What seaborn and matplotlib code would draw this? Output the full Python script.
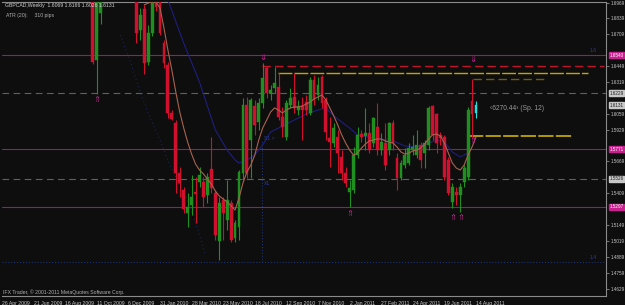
import numpy as np
import pandas as pd
import matplotlib
matplotlib.use("Agg")
import matplotlib.pyplot as plt
from matplotlib import font_manager
import seaborn as sns

# ---------------- data (weekly GBPCAD, price units) ----------------
weeks = [23, 24, 25] + list(range(34, 121))
opens = [1.7150, 1.6499, 1.6884,
         1.7020, 1.6745, 1.6916, 1.6483, 1.6720, 1.7000, 1.6980, 1.6638, 1.6458, 1.6066,
         1.5984, 1.5575, 1.5436, 1.5248, 1.5313, 1.5419, 1.5501, 1.5501, 1.5395, 1.5608,
         1.5411, 1.5019, 1.5354, 1.5190, 1.5329, 1.5043, 1.5133, 1.5575, 1.6131, 1.5845,
         1.6123, 1.5992, 1.6147, 1.6434, 1.6229, 1.6270, 1.6278, 1.6033, 1.5869, 1.6131,
         1.6197, 1.6090, 1.6123, 1.6156, 1.6066, 1.6336, 1.6213, 1.6360, 1.6172, 1.5861,
         1.5820, 1.5869, 1.5706, 1.5575, 1.5419, 1.5436, 1.5722, 1.5894, 1.5877, 1.5902,
         1.5820, 1.5951, 1.5763, 1.5820, 1.5763, 1.5984, 1.5698, 1.5534, 1.5640, 1.5657,
         1.5763, 1.5722, 1.5804, 1.5738, 1.5804, 1.6123, 1.6057, 1.5886, 1.5869, 1.5681,
         1.5338, 1.5419, 1.5395, 1.5501, 1.5542, 1.6164, 1.6069]
highs = [1.7200, 1.7150, 1.7150,
         1.7050, 1.6925, 1.6950, 1.6786, 1.7050, 1.7030, 1.7000, 1.6663, 1.6483, 1.6090,
         1.6008, 1.5624, 1.5460, 1.5411, 1.5559, 1.5542, 1.5624, 1.5542, 1.5575, 1.5869,
         1.5436, 1.5379, 1.5379, 1.5518, 1.5354, 1.5190, 1.5599, 1.6188, 1.6197, 1.6188,
         1.6172, 1.6188, 1.6475, 1.6450, 1.6295, 1.6442, 1.6393, 1.6115, 1.6172, 1.6270,
         1.6393, 1.6172, 1.6197, 1.6213, 1.6360, 1.6377, 1.6360, 1.6377, 1.6197, 1.6033,
         1.5984, 1.5927, 1.5763, 1.5624, 1.5518, 1.5788, 1.5951, 1.5927, 1.6107, 1.5984,
         1.6033, 1.6147, 1.5902, 1.5984, 1.5992, 1.6008, 1.5738, 1.5681, 1.5779, 1.5820,
         1.5886, 1.5927, 1.5828, 1.5845, 1.6123, 1.6131, 1.6066, 1.5910, 1.5886, 1.5706,
         1.5493, 1.5460, 1.5493, 1.5640, 1.6115, 1.6344, 1.6166]
lows = [1.6470, 1.6221, 1.6794,
        1.6638, 1.6663, 1.6385, 1.6458, 1.6696, 1.6900, 1.6704, 1.6434, 1.6025, 1.6008,
        1.5411, 1.5379, 1.5248, 1.5133, 1.5231, 1.5166, 1.5460, 1.5297, 1.5329, 1.5411,
        1.5027, 1.4863, 1.5027, 1.5109, 1.5010, 1.5010, 1.5027, 1.5518, 1.5534, 1.5534,
        1.5886, 1.5927, 1.6107, 1.6188, 1.6172, 1.6229, 1.6008, 1.5869, 1.5845, 1.6107,
        1.6066, 1.6049, 1.5845, 1.6049, 1.6049, 1.6131, 1.6172, 1.6107, 1.5845, 1.5624,
        1.5788, 1.5575, 1.5518, 1.5460, 1.5297, 1.5411, 1.5698, 1.5828, 1.5763, 1.5738,
        1.5788, 1.5722, 1.5722, 1.5599, 1.5722, 1.5763, 1.5436, 1.5518, 1.5616, 1.5640,
        1.5722, 1.5698, 1.5616, 1.5616, 1.5763, 1.5845, 1.5738, 1.5804, 1.5518, 1.5395,
        1.5289, 1.5313, 1.5256, 1.5460, 1.5518, 1.5869, 1.6026]
closes = [1.6483, 1.7100, 1.7050,
          1.6720, 1.6867, 1.6475, 1.6720, 1.7010, 1.6930, 1.6720, 1.6475, 1.6066, 1.6017,
          1.5575, 1.5493, 1.5280, 1.5297, 1.5379, 1.5403, 1.5559, 1.5379, 1.5542, 1.5452,
          1.5068, 1.5329, 1.5248, 1.5354, 1.5027, 1.5166, 1.5583, 1.6131, 1.5575, 1.6172,
          1.5968, 1.6147, 1.6352, 1.6229, 1.6254, 1.6311, 1.6033, 1.5951, 1.6147, 1.6188,
          1.6107, 1.6123, 1.6090, 1.6090, 1.6336, 1.6172, 1.6295, 1.6147, 1.5910, 1.5828,
          1.5943, 1.5738, 1.5575, 1.5493, 1.5452, 1.5722, 1.5886, 1.5869, 1.5902, 1.5763,
          1.6025, 1.5763, 1.5828, 1.5640, 1.5984, 1.5820, 1.5534, 1.5657, 1.5722, 1.5779,
          1.5788, 1.5804, 1.5681, 1.5820, 1.6107, 1.5886, 1.5820, 1.5861, 1.5542, 1.5411,
          1.5460, 1.5395, 1.5460, 1.5616, 1.6090, 1.6057, 1.6131]

ma_fast_weeks = list(range(36, 121))
ma_fast = [1.6950, 1.6965, 1.6974, 1.6970, 1.6925, 1.6761, 1.6581, 1.6417, 1.6237, 1.6074,
           1.5943, 1.5828, 1.5730, 1.5648, 1.5599, 1.5567, 1.5526, 1.5485, 1.5428, 1.5387,
           1.5362, 1.5338, 1.5305, 1.5272, 1.5370, 1.5493, 1.5583, 1.5640, 1.5722, 1.5845,
           1.5943, 1.6008, 1.6074, 1.6107, 1.6090, 1.6066, 1.6090, 1.6107, 1.6115, 1.6115,
           1.6123, 1.6139, 1.6156, 1.6180, 1.6197, 1.6213, 1.6172, 1.6107, 1.6041, 1.5968,
           1.5886, 1.5820, 1.5763, 1.5722, 1.5738, 1.5779, 1.5812, 1.5837, 1.5845, 1.5853,
           1.5853, 1.5837, 1.5828, 1.5820, 1.5788, 1.5747, 1.5730, 1.5738, 1.5755, 1.5763,
           1.5779, 1.5812, 1.5853, 1.5886, 1.5894, 1.5877, 1.5820, 1.5738, 1.5657, 1.5616,
           1.5599, 1.5640, 1.5722, 1.5788, 1.5869]

ma_slow_weeks = [42, 46, 50, 54, 57, 59, 60, 62, 64, 66, 68, 71, 74, 77, 80, 82, 84, 86,
                 88, 90, 93, 96, 99, 102, 105, 108, 110, 112, 114, 116, 118]
ma_slow = [1.6990, 1.6638, 1.6319, 1.5927, 1.5763, 1.5681, 1.5657, 1.5681, 1.5722, 1.5804,
           1.5910, 1.5959, 1.6008, 1.6057, 1.6090, 1.6107, 1.6041, 1.5992, 1.5943, 1.5886,
           1.5869, 1.5853, 1.5837, 1.5796, 1.5788, 1.5820, 1.5845, 1.5828, 1.5747, 1.5706,
           1.5738]

band_weeks = [30, 32.5, 35, 37.5, 40, 42.5, 45, 47.5, 50, 51.5]
band_vals = [1.6704, 1.6483, 1.6237, 1.6025, 1.5845, 1.5640, 1.5477, 1.5313, 1.5068, 1.4904]

date_labels = ["26 Apr 2009", "21 Jun 2009", "16 Aug 2009", "11 Oct 2009", "6 Dec 2009",
               "31 Jan 2010", "28 Mar 2010", "23 May 2010", "18 Jul 2010", "12 Sep 2010",
               "7 Nov 2010", "2 Jan 2011", "27 Feb 2011", "24 Apr 2011", "19 Jun 2011",
               "14 Aug 2011"]
date_ticks = list(range(0, 121, 8))

price_ticks = [1.6969, 1.6839, 1.6709, 1.6449, 1.6319, 1.6059, 1.5929, 1.5669,
               1.5409, 1.5149, 1.5019, 1.4889, 1.4759, 1.4629]

magenta_levels = [1.6540, 1.5771, 1.5297]
grey_levels = [1.6229, 1.5526]
current_price = 1.6131
red_level = 1.6453
yellow_level = 1.6395
olive_level = 1.6344
yellow2_level = 1.5880
blue_level = 1.4847

frac_down_weeks = [66, 119]
frac_down_vals = [1.6516, 1.6507]
frac_up_weeks = [24, 88, 114, 116, 119]
frac_up_vals = [1.6180, 1.5248, 1.5215, 1.5215, 1.5845]

# ---------------- style ----------------
W, H = 625, 305
BG = "#0e0e0e"
GREEN = "#1f8f1f"
RED = "#d0102e"
sns.set_style("dark", {"axes.facecolor": BG, "figure.facecolor": BG})
_names = {f.name for f in font_manager.fontManager.ttflist}
if "Liberation Sans Narrow" in _names:
    FONT, FS, FSY = "Liberation Sans Narrow", 4.3, 4.0
else:
    FONT, FS, FSY = "Liberation Sans", 3.7, 3.3
plt.rcParams['font.family'] = [FONT, 'DejaVu Sans']

PXW = 3.95          # px per week
Y0, SLOPE = 1.6990, 0.000818   # price at pixel row 0, price per pixel

fig = plt.figure(figsize=(W / 100, H / 100), dpi=100)
fig.patch.set_facecolor(BG)
ax_left, ax_right, ax_top, ax_bot = 2, 606, 1.5, 296
ax = fig.add_axes([ax_left / W, (H - ax_bot) / H, (ax_right - ax_left) / W, (ax_bot - ax_top) / H])
ax.set_facecolor(BG)
ax.set_xlim(0, (ax_right - ax_left) / PXW)
ax.set_ylim(Y0 - SLOPE * ax_bot, Y0 - SLOPE * ax_top)
xmax = (ax_right - ax_left) / PXW

# horizontal levels
for lv in magenta_levels:
    ax.axhline(lv, color="#8a1f78", lw=0.8, zorder=1)
for lv in grey_levels:
    ax.axhline(lv, color="#606060", lw=0.8, ls=(0, (6, 4)), zorder=1)
ax.axhline(blue_level, color="#203a80", lw=0.7, ls=(0, (1, 2)), zorder=1)
ax.hlines(red_level, 65.8, xmax - 0.5, color="#c0142c", lw=1.0, ls=(0, (6, 3)), zorder=2)
ax.hlines(yellow_level, 69.9, 148.4, color="#c8a400", lw=1.0, ls=(0, (10, 1.5)), zorder=2)
ax.hlines(olive_level, 119.2, 138.2, color="#6e5c12", lw=1.0, ls=(0, (6, 3)), zorder=2)
ax.hlines(yellow2_level, 118, 144.3, color="#e0c000", lw=1.1, ls=(0, (10, 1.5)), zorder=2)
ax.vlines(65.8, blue_level, 1.5845, color="#203a80", lw=0.7, ls=(0, (1, 2)), zorder=1)

# moving averages / band
sns.lineplot(x=band_weeks, y=band_vals, ax=ax, color="#1c2a66", lw=0.7,
             linestyle=(0, (1, 3)), legend=False, zorder=2)
sns.lineplot(x=ma_slow_weeks, y=ma_slow, ax=ax, color="#1e1e80", lw=0.8, legend=False, zorder=3)

# candles
df = pd.DataFrame({"w": weeks, "o": opens, "h": highs, "l": lows, "c": closes})
cols = np.where(df["c"] >= df["o"], GREEN, RED).tolist()
cols[-1] = "#20e0e0"
ax.vlines(df["w"], df["l"], df["h"], colors=cols, lw=0.8, zorder=4)
body_h = (df["c"] - df["o"]).abs().clip(lower=0.0009)
ax.bar(df["w"], body_h, bottom=np.minimum(df["o"], df["c"]), width=0.72,
       color=cols, edgecolor=cols, linewidth=0.3, zorder=5)

sns.lineplot(x=ma_fast_weeks, y=ma_fast, ax=ax, color="#a8624f", lw=0.8, legend=False, zorder=6)

# fractal arrows
for w, v in zip(frac_down_weeks, frac_down_vals):
    ax.text(w, v, r"$\Downarrow$", color="#c0288e", fontsize=6, ha="center", va="center",
            zorder=7, family="DejaVu Sans")
for w, v in zip(frac_up_weeks, frac_up_vals):
    ax.text(w, v, r"$\Uparrow$", color="#c0288e", fontsize=6, ha="center", va="center",
            zorder=7, family="DejaVu Sans")

# small blue labels
ax.text(66.3, 1.5860, "S1 >", color="#2a3c9a", fontsize=FS, va="center", zorder=7)
ax.text(66.3, 1.5490, "X1", color="#2a3c9a", fontsize=FS, va="center", zorder=7)
ax.text(150.5, 1.6575, "1.6", color="#2a3c9a", fontsize=FS, va="center", ha="right", zorder=7)
ax.text(150.5, 1.4880, "1.4", color="#2a3c9a", fontsize=FS, va="center", ha="right", zorder=7)

ax.text(123.5, 1.6100, "\u2039" + "6270.44" + "\u203a (Sp. 12)", color="#9a9a9a",
        fontsize=FS * 1.3, va="center", ha="left", zorder=7)

# axes styling
for s in ["top", "right", "bottom"]:
    ax.spines[s].set_color("#8a8a8a")
    ax.spines[s].set_linewidth(0.8)
ax.spines["left"].set_visible(False)
ax.grid(False)

ax.set_xticks(date_ticks)
ax.set_xticklabels(date_labels)
ax.tick_params(axis="x", colors="#8a8a8a", labelcolor="#c8c8c8", labelsize=FS,
               length=2.5, width=0.6, pad=0.8, direction="out")
for lab in ax.get_xticklabels():
    lab.set_ha("left")

ax.yaxis.tick_right()
ax.set_yticks(price_ticks)
ax.set_yticklabels([f"{v:.4f}" for v in price_ticks])
ax.tick_params(axis="y", colors="#8a8a8a", labelcolor="#c8c8c8", labelsize=FSY,
               length=2, width=0.6, pad=1.5, direction="out")
ax.set_xlabel("")
ax.set_ylabel("")


# price boxes on the right scale
def box(v, fc, tc):
    ax.annotate(f"{v:.4f}", xy=(1.0, v), xycoords=("axes fraction", "data"),
                xytext=(2.3, 0), textcoords="offset points", fontsize=FSY, color=tc,
                va="center", ha="left", zorder=8, annotation_clip=False,
                bbox=dict(boxstyle="square,pad=0.12", fc=fc, ec=fc))


for lv in magenta_levels:
    box(lv, "#c8208e", "#ffffff")
for lv in grey_levels + [current_price]:
    box(lv, "#c8c8c8", "#202020")

# header / footer text
fig.text(5 / W, 1 - 5 / H, "GBPCAD,Weekly  1.6069 1.6166 1.6026 1.6131", color="#d0d0d0",
         fontsize=FS, va="center", ha="left")
fig.text(6 / W, 1 - 16 / H, "ATR (20):     310 pips", color="#b0b0b0",
         fontsize=FS, va="center", ha="left")
fig.text(3 / W, 1 - 292 / H, "IFX Trader, \u00a9 2001-2011 MetaQuotes Software Corp.",
         color="#b0b0b0", fontsize=FS, va="center", ha="left")

fig.savefig("out.png", dpi=100, facecolor=BG)
